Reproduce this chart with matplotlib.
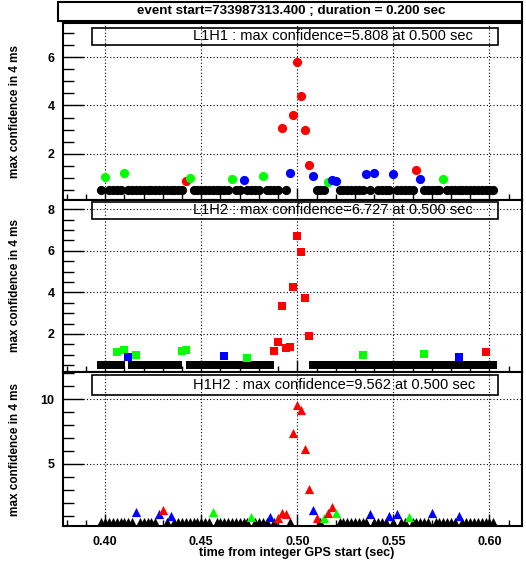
import matplotlib.pyplot as plt
from matplotlib.patches import Rectangle
from matplotlib.ticker import MultipleLocator
import numpy as np

plt.rcParams['font.family'] = ['Liberation Sans', 'DejaVu Sans']

W, H = 526, 565

title = 'event start=733987313.400 ; duration = 0.200 sec'
ylabel = 'max confidence in 4 ms'
xlabel = 'time from integer GPS start (sec)'

# 2 ms bins over the event; bins without a coloured point sit at the floor level
t_bins = np.round(np.arange(0.398, 0.6021, 0.002), 3)
floor_level = 0.5

l1h1_t = [0.400, 0.410, 0.442, 0.444, 0.466, 0.472, 0.482, 0.492, 0.496, 0.498, 0.500, 0.502,
          0.504, 0.506, 0.508, 0.516, 0.518, 0.520, 0.536, 0.540, 0.550, 0.562, 0.564, 0.576]
l1h1_v = [1.03, 1.20, 0.88, 0.98, 0.95, 0.92, 1.06, 3.07, 1.21, 3.62, 5.808, 4.39,
          2.98, 1.52, 1.06, 0.84, 0.91, 0.88, 1.15, 1.20, 1.16, 1.31, 0.94, 0.94]
l1h1_c = ['g', 'g', 'r', 'g', 'g', 'b', 'g', 'r', 'b', 'r', 'r', 'r',
          'r', 'r', 'b', 'g', 'b', 'b', 'b', 'b', 'b', 'r', 'b', 'g']

l1h2_t = [0.406, 0.410, 0.412, 0.416, 0.440, 0.442, 0.462, 0.474, 0.488, 0.490, 0.492,
          0.494, 0.496, 0.498, 0.500, 0.502, 0.504, 0.506, 0.534, 0.566, 0.584, 0.598]
l1h2_v = [1.15, 1.25, 0.91, 0.98, 1.17, 1.22, 0.96, 0.86, 1.17, 1.60, 3.33,
          1.33, 1.36, 4.25, 6.727, 5.93, 3.72, 1.92, 1.01, 1.05, 0.91, 1.15]
l1h2_c = ['g', 'g', 'b', 'g', 'g', 'g', 'b', 'g', 'r', 'r', 'r',
          'r', 'r', 'r', 'r', 'r', 'r', 'r', 'g', 'g', 'b', 'r']

h1h2_t = [0.416, 0.428, 0.430, 0.434, 0.456, 0.476, 0.486, 0.490, 0.492, 0.494, 0.498, 0.500, 0.502,
          0.504, 0.506, 0.508, 0.510, 0.514, 0.516, 0.518, 0.520, 0.538, 0.548, 0.552, 0.558, 0.570, 0.584]
h1h2_v = [1.27, 1.14, 1.42, 1.01, 1.31, 0.90, 0.93, 0.83, 1.21, 1.16, 7.42, 9.562, 9.17,
          6.16, 3.04, 1.47, 0.85, 0.80, 1.19, 1.65, 1.24, 1.11, 1.01, 1.14, 0.93, 1.24, 0.98]
h1h2_c = ['b', 'b', 'r', 'b', 'g', 'g', 'b', 'r', 'r', 'r', 'r', 'r', 'r',
          'r', 'r', 'b', 'r', 'g', 'r', 'r', 'g', 'b', 'b', 'b', 'g', 'b', 'b']

legend_texts = ['L1H1 : max confidence=5.808 at 0.500 sec',
                'L1H2 : max confidence=6.727 at 0.500 sec',
                'H1H2 : max confidence=9.562 at 0.500 sec']

colors = {'r': '#ff0000', 'g': '#00ff00', 'b': '#0000ff'}

# panel geometry in pixels: (top, bottom), y-range, majors, minors, marker, size, legend box (top, bottom)
panels = [
    dict(tb=(23, 200), ylim=(0.08, 7.42), major=2, minor=0.5, marker='o', s=44,
         data=(l1h1_t, l1h1_v, l1h1_c), box=(28, 45)),
    dict(tb=(200, 372), ylim=(0.17, 8.44), major=2, minor=0.5, marker='s', s=32,
         data=(l1h2_t, l1h2_v, l1h2_c), box=(202, 219)),
    dict(tb=(372, 526), ylim=(0.2, 12.1), major=5, minor=1, marker='^', s=44,
         data=(h1h2_t, h1h2_v, h1h2_c), box=(375, 395)),
]

left_px, right_px = 63, 522

fig = plt.figure(figsize=(W / 100, H / 100), dpi=100)

for i, p in enumerate(panels):
    top, bot = p['tb']
    ax = fig.add_axes([left_px / W, 1 - bot / H, (right_px - left_px) / W, (bot - top) / H])
    t, v, c = p['data']

    black_t = [tb for tb in t_bins if not np.any(np.isclose(tb, t))]
    ax.scatter(black_t, [floor_level] * len(black_t), marker=p['marker'], s=p['s'],
               color='black', linewidths=0, zorder=3)
    for ti, vi, ci in zip(t, v, c):
        ax.scatter([ti], [vi], marker=p['marker'], s=p['s'], color=colors[ci],
                   linewidths=0, zorder=4)

    ax.set_xlim(0.378, 0.617)
    ax.set_ylim(*p['ylim'])
    ax.xaxis.set_major_locator(MultipleLocator(0.05))
    ax.xaxis.set_minor_locator(MultipleLocator(0.01))
    ax.yaxis.set_major_locator(MultipleLocator(p['major']))
    ax.yaxis.set_minor_locator(MultipleLocator(p['minor']))
    ax.tick_params(which='both', direction='in', top=False, right=False, width=1)
    ax.tick_params(axis='y', which='major', length=15, pad=6)
    ax.tick_params(axis='y', which='minor', length=8)
    ax.tick_params(axis='x', which='major', length=9, pad=7)
    ax.tick_params(axis='x', which='minor', length=4.5)
    ax.grid(True, which='major', color='black', linestyle=(0, (1, 2)), linewidth=0.8)
    ax.set_axisbelow(True)
    for s in ax.spines.values():
        s.set_linewidth(1.5)
    for lab in ax.get_yticklabels() + ax.get_xticklabels():
        lab.set_fontweight('bold')
        lab.set_fontsize(9)
    if i < 2:
        ax.set_xticklabels([])

    # ylabel next to each panel
    fig.text(15 / W, 1 - (top + bot) / 2 / H, ylabel, rotation=90, ha='center', va='center',
             fontsize=8.5, fontweight='bold')

    # transparent legend box with the peak summary
    bt, bb = p['box']
    fig.patches.append(Rectangle((92 / W, 1 - bb / H), (498 - 92) / W, (bb - bt) / H,
                                 transform=fig.transFigure, fill=False, edgecolor='black',
                                 linewidth=1.2, zorder=10))
    fig.text(193 / W, 1 - (bt + bb) / 2 / H, legend_texts[i], ha='left', va='center',
             fontsize=10.5, zorder=11)

# title box
fig.patches.append(Rectangle((58 / W, 1 - 21 / H), (522 - 58) / W, 19 / H,
                             transform=fig.transFigure, facecolor='white', edgecolor='black',
                             linewidth=1.5, zorder=10))
fig.text(291 / W, 1 - 11.5 / H, title, ha='center', va='center', fontsize=9.6,
         fontweight='bold', zorder=11)

fig.text(297 / W, 1 - 553 / H, xlabel, ha='center', va='center', fontsize=9, fontweight='bold')

fig.savefig('out.png', dpi=100)
